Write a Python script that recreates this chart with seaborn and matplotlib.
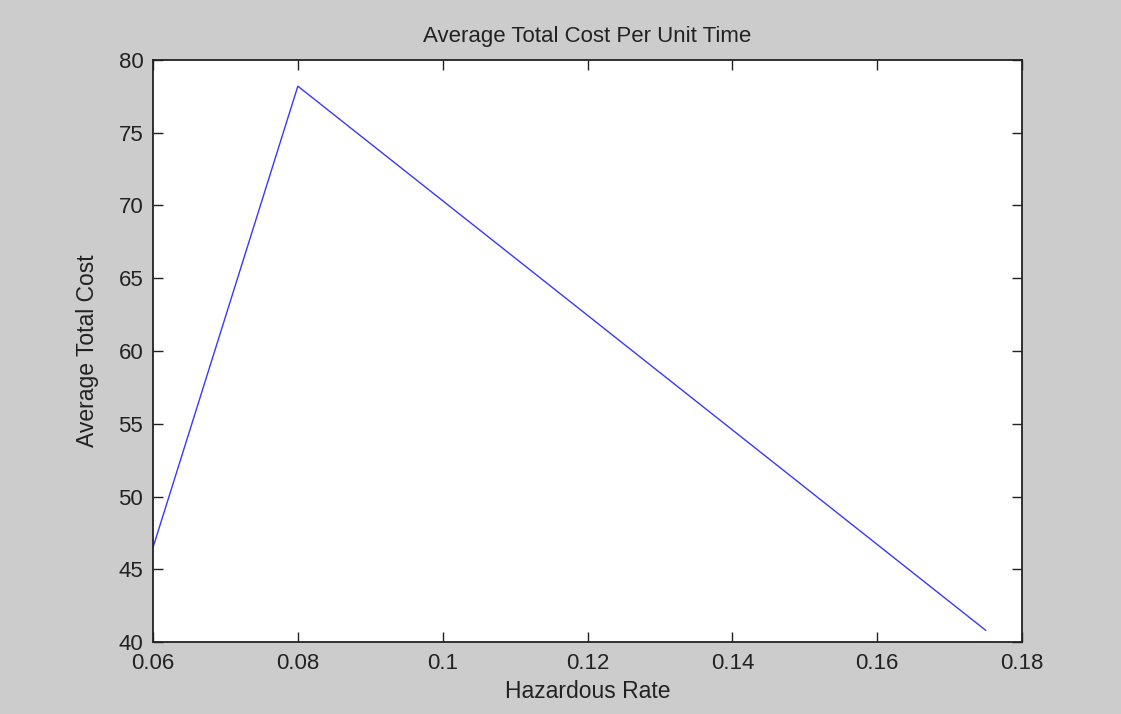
import seaborn as sns
import matplotlib.pyplot as plt
import pandas as pd

# values
hazard_rate = [0.06, 0.08, 0.175]
avg_cost = [46.5, 78.2, 40.8]
x_ticks = [0.06, 0.08, 0.1, 0.12, 0.14, 0.16, 0.18]
x_tick_labels = ['0.06', '0.08', '0.1', '0.12', '0.14', '0.16', '0.18']
y_ticks = [40, 45, 50, 55, 60, 65, 70, 75, 80]

df = pd.DataFrame({'Hazardous Rate': hazard_rate, 'Average Total Cost': avg_cost})

sns.set_style('ticks')
plt.rcParams['font.family'] = ['Liberation Sans', 'DejaVu Sans']

fig = plt.figure(figsize=(11.21, 7.14), dpi=100, facecolor='#cccccc')
ax = fig.add_axes([0.1365, 0.1008, 0.7752, 0.8152])
ax.set_facecolor('white')

sns.lineplot(data=df, x='Hazardous Rate', y='Average Total Cost', ax=ax,
             color='#3838ff', linewidth=1.0, estimator=None, sort=False)

ax.set_xlim(0.06, 0.18)
ax.set_ylim(40, 80)
ax.set_xticks(x_ticks)
ax.set_xticklabels(x_tick_labels)
ax.set_yticks(y_ticks)

for s in ax.spines.values():
    s.set_visible(True)
    s.set_color('#222222')
    s.set_linewidth(1.3)

ax.tick_params(direction='in', length=7, width=1, colors='#222222',
               top=True, right=True, labelsize=16)
ax.tick_params(axis='x', pad=8)
ax.tick_params(axis='y', pad=7)

ax.set_title('Average Total Cost Per Unit Time', fontsize=16, color='#222222', pad=13)
ax.set_xlabel('Hazardous Rate', fontsize=16.5, color='#222222', labelpad=4)
ax.set_ylabel('Average Total Cost', fontsize=16.5, color='#222222', labelpad=14)

fig.savefig('out.png', dpi=100, facecolor=fig.get_facecolor())
